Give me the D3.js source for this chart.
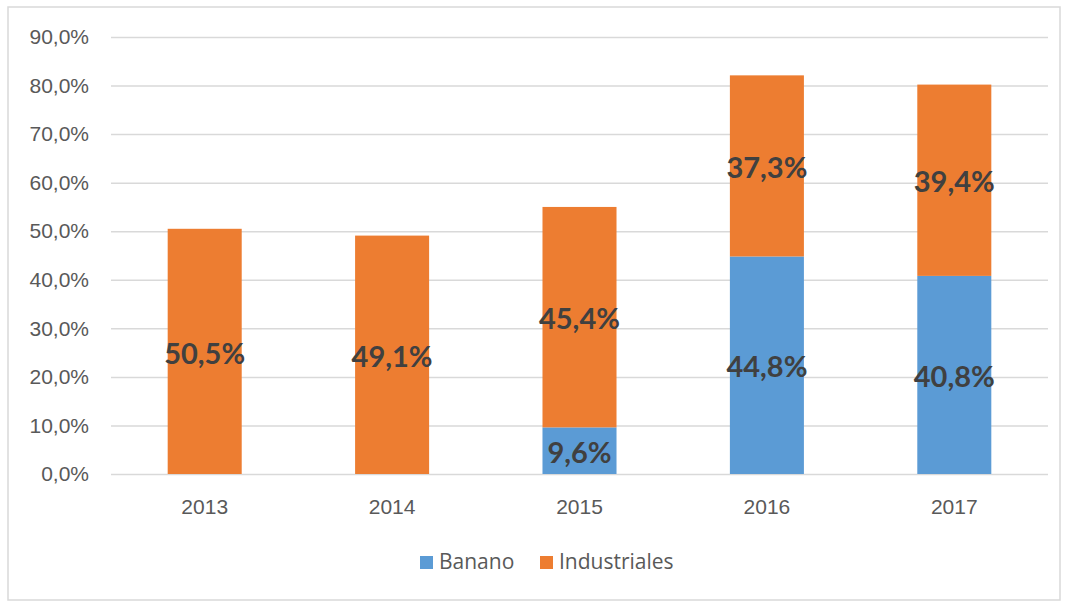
<!DOCTYPE html>
<html>
<head>
<meta charset="utf-8">
<style>
    body { margin: 0; background: #fff; }
    svg { display: block; font-family: "Open Sans", Lato, sans-serif; }
    .y .domain, .x .domain { display: none; }
    .y .tick line { stroke: #d9d9d9; stroke-width: 1.5; }
    .x .tick line { display: none; }
    .tick text { fill: #595959; font-size: 21px; }
</style>
</head>
<body>
<svg width="1067" height="602"></svg>
<script src="https://d3js.org/d3.v7.min.js"></script>
<script>
    let years = ["2013", "2014", "2015", "2016", "2017"];
    let banano = [0, 0, 9.6, 44.8, 40.8];
    let industriales = [50.5, 49.1, 45.4, 37.3, 39.4];
    let seriesNames = ["Banano", "Industriales"];
    let colors = ["#5b9bd5", "#ed7d31"];
    let yTicks = [0, 10, 20, 30, 40, 50, 60, 70, 80, 90];

    let svg = d3.select("svg");
    let margin = { top: 37, right: 19, bottom: 128, left: 111 };
    let width = 1067, height = 602;

    // outer chart frame
    svg.append("rect")
        .attr("x", 8).attr("y", 7)
        .attr("width", 1052).attr("height", 593)
        .attr("fill", "none")
        .attr("stroke", "#d9d9d9")
        .attr("stroke-width", 1.5);

    let rows = years.map((y, i) => ({ year: y, Banano: banano[i], Industriales: industriales[i] }));
    let stacked = d3.stack().keys(seriesNames)(rows);

    let x = d3.scaleBand()
        .domain(years)
        .range([margin.left, width - margin.right])
        .paddingInner(0.605)
        .paddingOuter(0.3025);

    let y = d3.scaleLinear()
        .domain([0, 90])
        .range([height - margin.bottom, margin.top]);

    let fmt = v => d3.format(".1f")(v).replace(".", ",") + "%";

    svg.append("g")
        .attr("class", "y axis")
        .attr("transform", `translate(${margin.left},0)`)
        .call(d3.axisLeft(y).tickValues(yTicks)
            .tickSize(-(width - margin.left - margin.right))
            .tickPadding(22)
            .tickFormat(fmt));

    svg.append("g")
        .attr("class", "x axis")
        .attr("transform", `translate(0,${y(0)})`)
        .call(d3.axisBottom(x).tickSize(0).tickPadding(25));

    let groups = svg.append("g")
        .selectAll("g")
        .data(stacked)
        .join("g")
        .attr("fill", (d, i) => colors[i]);

    groups.selectAll("rect")
        .data(d => d.filter(s => s[1] - s[0] > 0))
        .join("rect")
        .attr("x", d => x(d.data.year))
        .attr("width", x.bandwidth())
        .attr("y", d => y(d[1]))
        .attr("height", d => y(d[0]) - y(d[1]));

    groups.selectAll("text")
        .data(d => d.filter(s => s[1] - s[0] > 0))
        .join("text")
        .attr("x", d => x(d.data.year) + x.bandwidth() / 2)
        .attr("y", d => y((d[0] + d[1]) / 2))
        .attr("dy", "0.42em")
        .attr("text-anchor", "middle")
        .attr("fill", "#404040")
        .attr("font-family", "Lato, sans-serif")
        .attr("font-size", 29)
        .attr("font-weight", "bold")
        .text(d => fmt(d[1] - d[0]));

    // legend
    let legendX = [420, 540];
    let legend = svg.append("g")
        .selectAll("g")
        .data(seriesNames)
        .join("g")
        .attr("transform", (d, i) => `translate(${legendX[i]},562)`);

    legend.append("rect")
        .attr("x", 0).attr("y", -6)
        .attr("width", 13).attr("height", 13)
        .attr("fill", (d, i) => colors[i]);

    legend.append("text")
        .attr("x", 19)
        .attr("dy", "0.35em")
        .attr("fill", "#595959")
        .attr("font-size", 21)
        .text(d => d);
</script>
</body>
</html>
